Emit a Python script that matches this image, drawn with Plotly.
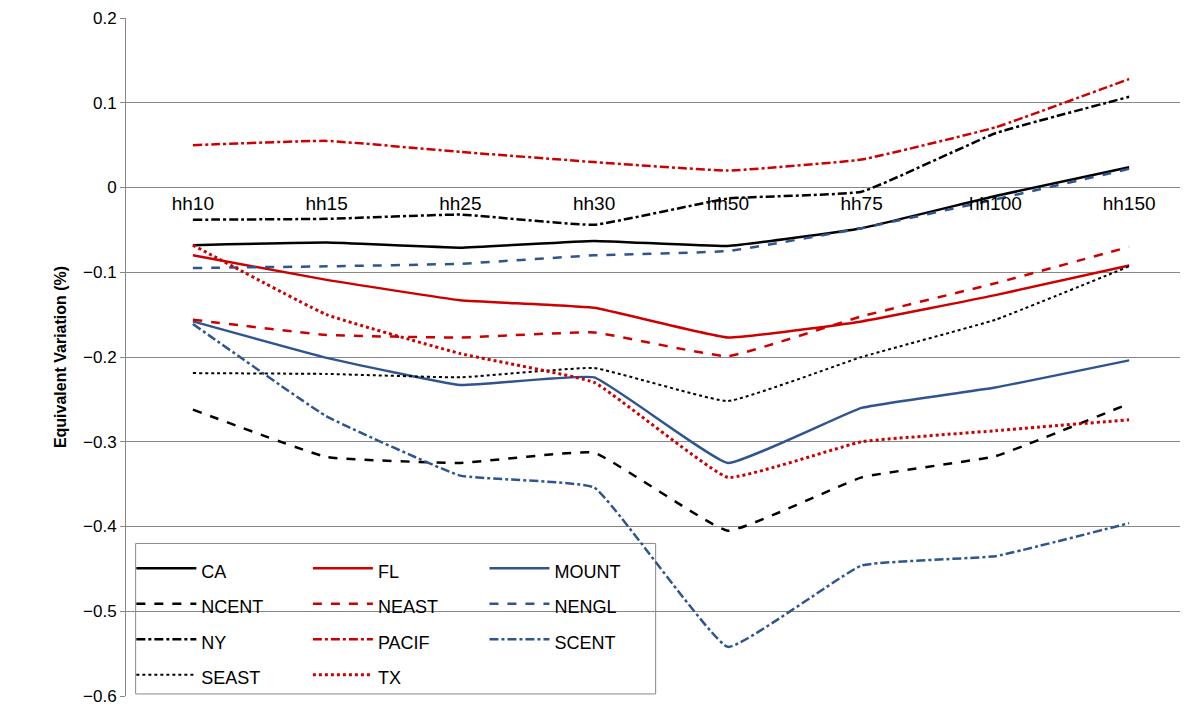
import plotly.graph_objects as go

cats = ["hh10","hh15","hh25","hh30","hh50","hh75","hh100","hh150"]
CA    = [-0.068,-0.065,-0.071,-0.063,-0.069,-0.048,-0.010,0.024]
FL    = [-0.080,-0.109,-0.133,-0.142,-0.177,-0.158,-0.127,-0.092]
MOUNT = [-0.158,-0.201,-0.233,-0.224,-0.325,-0.260,-0.236,-0.204]
NCENT = [-0.262,-0.318,-0.325,-0.313,-0.405,-0.342,-0.317,-0.255]
NEAST = [-0.156,-0.174,-0.177,-0.171,-0.199,-0.152,-0.113,-0.070]
NENGL = [-0.095,-0.093,-0.090,-0.080,-0.075,-0.048,-0.014,0.022]
NY    = [-0.038,-0.037,-0.032,-0.044,-0.013,-0.005,0.064,0.107]
PACIF = [0.050,0.055,0.042,0.030,0.020,0.033,0.071,0.128]
SCENT = [-0.161,-0.270,-0.340,-0.354,-0.542,-0.446,-0.435,-0.396]
SEAST = [-0.219,-0.220,-0.224,-0.213,-0.252,-0.200,-0.156,-0.093]
TX    = [-0.068,-0.150,-0.196,-0.230,-0.342,-0.300,-0.287,-0.274]

K, R, B = "#000000", "#cc0000", "#2e5590"
series = [("CA",CA,K,"solid",2.5,"legend"),("FL",FL,R,"solid",2.5,"legend2"),("MOUNT",MOUNT,B,"solid",2.5,"legend3"),
          ("NCENT",NCENT,K,"dash",2.5,"legend"),("NEAST",NEAST,R,"dash",2.5,"legend2"),("NENGL",NENGL,B,"dash",2.5,"legend3"),
          ("NY",NY,K,"dashdot",2.5,"legend"),("PACIF",PACIF,R,"dashdot",2.5,"legend2"),("SCENT",SCENT,B,"dashdot",2.5,"legend3"),
          ("SEAST",SEAST,K,"dot",2,"legend"),("TX",TX,R,"dot",3,"legend2")]

fig = go.Figure()
for name, vals, col, dash, w, lg in series:
    fig.add_trace(go.Scatter(x=cats, y=vals, name=f"<span style='font-size:18px'>{name}</span>",
                             mode="lines", legend=lg,
                             line=dict(color=col, dash=dash, width=w, shape="spline", smoothing=0.3)))

lgstyle = dict(y=0.222, yanchor="top", xanchor="left", bgcolor="rgba(0,0,0,0)",
               font=dict(size=25), tracegroupgap=0, itemwidth=60, borderwidth=0)
fig.update_layout(
    width=1188, height=704, margin=dict(l=118, r=0, t=10, b=16),
    plot_bgcolor="white", paper_bgcolor="white",
    font=dict(family="Liberation Sans, Arial", size=17, color="black"),
    xaxis=dict(type="category", range=[-0.5, 7.5], anchor="free", position=0.75, showline=False,
               showgrid=False, ticks="", tickfont=dict(size=19), ticklabelstandoff=2),
    yaxis=dict(range=[-0.6, 0.2], dtick=0.1, showgrid=True, gridcolor="#888888",
               gridwidth=1, zeroline=True, zerolinecolor="#888888", zerolinewidth=1,
               showline=True, linecolor="#888888", ticks="outside", ticklen=5, tickcolor="#888888",
               tickfont=dict(size=17),
               title=dict(text="<b>Equivalent Variation (%)</b>", font=dict(size=16), standoff=12)),
    legend=dict(x=0.005, **lgstyle),
    legend2=dict(x=0.17, **lgstyle),
    legend3=dict(x=0.335, **lgstyle),
    shapes=[dict(type="rect", xref="paper", yref="paper", x0=0.009, x1=0.495, y0=0.003, y1=0.225,
                 line=dict(color="#888888", width=1), fillcolor="white", layer="below")],
)
fig.write_html("out.html")
